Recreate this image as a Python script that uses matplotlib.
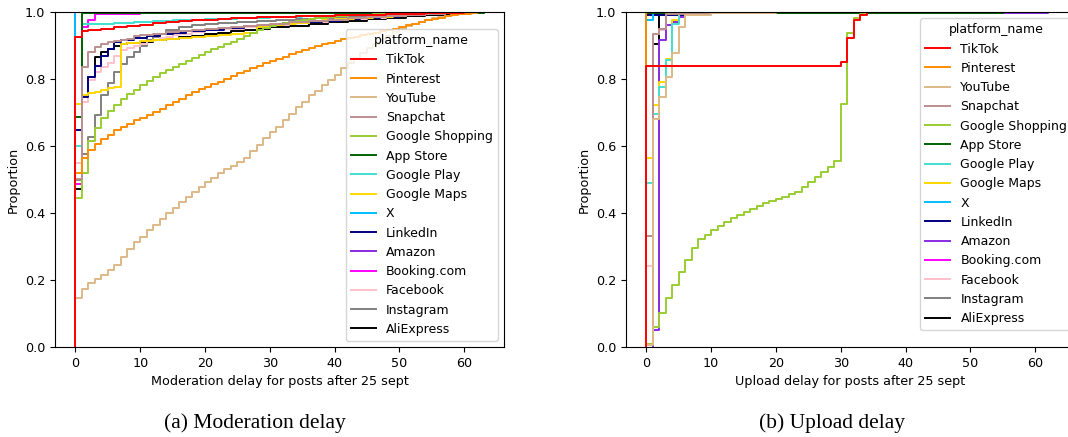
import numpy as np
import matplotlib
matplotlib.use("Agg")
import matplotlib.pyplot as plt

plt.rcParams['font.size'] = 9.2

platforms = ["TikTok", "Pinterest", "YouTube", "Snapchat", "Google Shopping",
             "App Store", "Google Play", "Google Maps", "X", "LinkedIn",
             "Amazon", "Booking.com", "Facebook", "Instagram", "AliExpress"]
colors = ["red", "darkorange", "burlywood", "rosybrown", "yellowgreen",
          "darkgreen", "turquoise", "gold", "deepskyblue", "navy",
          "blueviolet", "magenta", "pink", "gray", "black"]

# moderation delay (days) -> cumulative proportion
mod_days_full = list(range(64))
mod_youtube = [0.147, 0.173, 0.19, 0.203, 0.215, 0.23, 0.245, 0.27, 0.293, 0.313,
               0.329, 0.349, 0.365, 0.381, 0.401, 0.416, 0.433, 0.448, 0.463, 0.477,
               0.493, 0.505, 0.518, 0.53, 0.541, 0.551, 0.563, 0.584, 0.604, 0.624,
               0.643, 0.658, 0.678, 0.697, 0.717, 0.732, 0.752, 0.764, 0.781, 0.797,
               0.812, 0.832, 0.848, 0.864, 0.879, 0.893, 0.906, 0.918, 0.929, 0.94,
               0.949, 0.957, 0.964, 0.971, 0.976, 0.981, 0.985, 0.989, 0.992, 0.995,
               0.997, 0.998, 0.999, 1.0]
mod_pinterest = [0.52, 0.563, 0.588, 0.607, 0.621, 0.634, 0.647, 0.658, 0.667, 0.677,
                 0.685, 0.693, 0.702, 0.711, 0.721, 0.73, 0.74, 0.752, 0.76, 0.769,
                 0.777, 0.784, 0.792, 0.8, 0.809, 0.817, 0.825, 0.832, 0.839, 0.847,
                 0.854, 0.86, 0.867, 0.874, 0.88, 0.887, 0.893, 0.899, 0.904, 0.909,
                 0.913, 0.918, 0.922, 0.926, 0.93, 0.934, 0.938, 0.942, 0.946, 0.95,
                 0.955, 0.96, 0.965, 0.97, 0.975, 0.979, 0.983, 0.987, 0.99, 0.993,
                 0.995, 0.997, 0.999, 1.0]
mod_shopping_d = list(range(41)) + [42, 44, 46, 48, 51, 55, 60]
mod_shopping = [0.444, 0.518, 0.615, 0.653, 0.683, 0.704, 0.722, 0.739, 0.754, 0.767,
                0.782, 0.794, 0.806, 0.817, 0.827, 0.837, 0.846, 0.855, 0.864, 0.872,
                0.88, 0.889, 0.896, 0.904, 0.911, 0.919, 0.928, 0.936, 0.945, 0.952,
                0.958, 0.963, 0.967, 0.971, 0.974, 0.977, 0.979, 0.981, 0.983, 0.985,
                0.987, 0.99, 0.992, 0.994, 0.996, 0.998, 0.999, 1.0]
mod_tiktok_d = [0, 1, 2, 4, 6, 8, 10, 12, 14, 16, 18, 20, 22, 24, 26, 28, 30, 32, 34, 36,
                38, 40, 42, 45, 48, 51, 54, 57, 60, 63]
mod_tiktok = [0.925, 0.943, 0.946, 0.95, 0.954, 0.958, 0.962, 0.966, 0.969, 0.972, 0.975,
              0.977, 0.979, 0.981, 0.983, 0.984, 0.985, 0.986, 0.987, 0.988, 0.989, 0.99,
              0.991, 0.992, 0.994, 0.995, 0.996, 0.997, 0.999, 1.0]
mod_snapchat_d = [0, 1, 2, 3, 4, 5, 6, 7, 8, 9, 10, 12, 14, 16, 18, 20, 22, 24, 26, 28, 30,
                  33, 36, 39, 42, 45, 48, 51, 54, 57, 60]
mod_snapchat = [0.503, 0.837, 0.88, 0.895, 0.905, 0.91, 0.913, 0.915, 0.92, 0.927, 0.931,
                0.935, 0.94, 0.944, 0.947, 0.95, 0.953, 0.956, 0.959, 0.962, 0.965, 0.969,
                0.973, 0.977, 0.981, 0.984, 0.988, 0.991, 0.994, 0.997, 1.0]
mod_appstore_d = [0, 1, 63]
mod_appstore = [0.688, 0.997, 1.0]
mod_play_d = [0, 1, 3, 6, 9, 12, 15, 20, 25, 30, 35, 40, 45, 50, 55, 60, 63]
mod_play = [0.6, 0.963, 0.965, 0.967, 0.969, 0.972, 0.975, 0.978, 0.982, 0.985, 0.988, 0.99,
            0.992, 0.994, 0.996, 0.998, 1.0]
mod_maps_d = [0, 1, 2, 3, 4, 5, 6, 7, 8, 10, 12, 14, 16, 18, 20, 22, 24, 26, 28, 30, 32, 34,
              36, 38, 40, 43, 46, 49, 52, 55, 58, 61]
mod_maps = [0.725, 0.752, 0.758, 0.762, 0.767, 0.772, 0.777, 0.905, 0.908, 0.912, 0.916, 0.92,
            0.923, 0.926, 0.929, 0.932, 0.935, 0.938, 0.955, 0.96, 0.964, 0.968, 0.972, 0.975,
            0.978, 0.982, 0.986, 0.99, 0.993, 0.996, 0.998, 1.0]
mod_x_d = [0]
mod_x = [1.0]
mod_linkedin_d = [0, 1, 2, 3, 4, 5, 6, 7, 9, 11, 13, 15, 17, 20, 23, 26, 29, 32, 35, 38, 41,
                  44, 47, 50, 53, 56, 60]
mod_linkedin = [0.648, 0.745, 0.807, 0.84, 0.868, 0.89, 0.91, 0.915, 0.921, 0.927, 0.933,
                0.938, 0.942, 0.947, 0.952, 0.957, 0.962, 0.966, 0.97, 0.974, 0.978, 0.982,
                0.986, 0.99, 0.993, 0.996, 1.0]
mod_amazon_d = [0]
mod_amazon = [1.0]
mod_booking_d = [0, 1, 2, 3, 10, 25, 63]
mod_booking = [0.487, 0.956, 0.976, 0.993, 0.996, 0.998, 1.0]
mod_facebook_d = [0, 1, 2, 3, 4, 5, 6, 7, 8, 9, 10, 11, 12, 13, 14, 15, 16, 18, 20, 23, 26, 30,
                  33, 36, 39, 42, 45, 48, 51, 54, 57, 60, 63]
mod_facebook = [0.55, 0.73, 0.797, 0.822, 0.837, 0.847, 0.869, 0.887, 0.893, 0.9, 0.906, 0.912,
                0.917, 0.922, 0.926, 0.93, 0.934, 0.94, 0.945, 0.95, 0.955, 0.962, 0.967,
                0.971, 0.975, 0.979, 0.983, 0.987, 0.99, 0.993, 0.996, 0.998, 1.0]
mod_instagram_d = [0, 1, 2, 3, 4, 5, 6, 7, 8, 9, 10, 11, 12, 13, 14, 16, 18, 20, 22, 25, 28,
                   31, 34, 37, 40, 43, 46, 49, 52, 55, 58, 61]
mod_instagram = [0.5, 0.576, 0.627, 0.693, 0.752, 0.787, 0.82, 0.845, 0.865, 0.88, 0.9, 0.915,
                 0.926, 0.935, 0.945, 0.955, 0.96, 0.963, 0.966, 0.97, 0.973, 0.976, 0.979,
                 0.982, 0.985, 0.988, 0.99, 0.992, 0.994, 0.996, 0.998, 1.0]
mod_aliexpress_d = [0, 1, 2, 3, 4, 5, 6, 7, 8, 9, 10, 12, 14, 16, 18, 20, 22, 24, 26, 28, 30,
                    33, 36, 39, 42, 45, 48, 51, 54, 57, 60]
mod_aliexpress = [0.471, 0.75, 0.807, 0.867, 0.882, 0.891, 0.9, 0.905, 0.907, 0.909, 0.911,
                  0.915, 0.919, 0.924, 0.929, 0.934, 0.938, 0.942, 0.946, 0.95, 0.954, 0.959,
                  0.964, 0.969, 0.974, 0.979, 0.983, 0.987, 0.991, 0.995, 1.0]

# upload delay (days) -> cumulative proportion
up_tiktok_d = [0, 30, 31, 32, 33, 34]
up_tiktok = [0.839, 0.852, 0.921, 0.976, 0.991, 1.0]
up_pinterest_d = [0]
up_pinterest = [1.0]
up_youtube_d = [0, 1, 2, 3, 4, 5, 6, 10, 20, 40]
up_youtube = [0.005, 0.68, 0.747, 0.807, 0.879, 0.954, 0.99, 0.996, 0.999, 1.0]
up_snapchat_d = [0, 1, 2, 3, 10]
up_snapchat = [0.331, 0.935, 0.95, 0.995, 1.0]
up_shopping_d = list(range(35))
up_shopping = [0.01, 0.06, 0.102, 0.145, 0.185, 0.225, 0.26, 0.295, 0.321, 0.334,
               0.349, 0.362, 0.374, 0.384, 0.394, 0.403, 0.411, 0.421, 0.429, 0.436,
               0.442, 0.449, 0.457, 0.464, 0.479, 0.493, 0.508, 0.523, 0.538, 0.556,
               0.724, 0.938, 0.981, 0.995, 1.0]
up_appstore_d = [0, 55]
up_appstore = [0.997, 1.0]
up_play_d = [0, 1, 2, 3, 4, 5, 10]
up_play = [0.49, 0.696, 0.775, 0.857, 0.965, 0.996, 1.0]
up_maps_d = [0, 1, 2, 3, 4, 5, 10]
up_maps = [0.563, 0.722, 0.792, 0.859, 0.976, 0.995, 1.0]
up_x_d = [0, 1]
up_x = [0.976, 1.0]
up_linkedin_d = [0, 6]
up_linkedin = [0.99, 1.0]
up_amazon_d = [1, 2, 3, 4, 5, 6, 62]
up_amazon = [0.05, 0.916, 0.961, 0.971, 0.986, 0.996, 1.0]
up_booking_d = [0, 2, 19]
up_booking = [0.995, 0.997, 1.0]
up_facebook_d = [0, 1, 2, 3, 19]
up_facebook = [0.242, 0.934, 0.945, 0.996, 1.0]
up_instagram_d = [0, 1, 2, 3, 10]
up_instagram = [0.331, 0.935, 0.948, 0.995, 1.0]
up_aliexpress_d = [1, 2]
up_aliexpress = [0.906, 1.0]

moderation = [(mod_tiktok_d, mod_tiktok), (mod_days_full, mod_pinterest),
              (mod_days_full, mod_youtube), (mod_snapchat_d, mod_snapchat),
              (mod_shopping_d, mod_shopping), (mod_appstore_d, mod_appstore),
              (mod_play_d, mod_play), (mod_maps_d, mod_maps), (mod_x_d, mod_x),
              (mod_linkedin_d, mod_linkedin), (mod_amazon_d, mod_amazon),
              (mod_booking_d, mod_booking), (mod_facebook_d, mod_facebook),
              (mod_instagram_d, mod_instagram), (mod_aliexpress_d, mod_aliexpress)]
upload = [(up_tiktok_d, up_tiktok), (up_pinterest_d, up_pinterest),
          (up_youtube_d, up_youtube), (up_snapchat_d, up_snapchat),
          (up_shopping_d, up_shopping), (up_appstore_d, up_appstore),
          (up_play_d, up_play), (up_maps_d, up_maps), (up_x_d, up_x),
          (up_linkedin_d, up_linkedin), (up_amazon_d, up_amazon),
          (up_booking_d, up_booking), (up_facebook_d, up_facebook),
          (up_instagram_d, up_instagram), (up_aliexpress_d, up_aliexpress)]


def draw_ecdf(ax, series, xlabel, legend_loc, anchor):
  handles = [None] * len(platforms)
  # last hue drawn first, like seaborn does
  for i in reversed(range(len(platforms))):
    d, p = series[i]
    x = np.r_[d[0], d]
    y = np.r_[0.0, p]
    line, = ax.plot(x, y, drawstyle="steps-post", color=colors[i], lw=1.4, label=platforms[i])
    handles[i] = line
  ax.set_xlim(-3.15, 66.15)
  ax.set_ylim(0, 1)
  ax.set_xticks([0, 10, 20, 30, 40, 50, 60])
  ax.set_xlabel(xlabel)
  ax.set_ylabel("Proportion")
  ax.legend(handles=handles, title="platform_name", loc=legend_loc, bbox_to_anchor=anchor,
            fontsize=9, title_fontsize=9)


fig = plt.figure(figsize=(10.68, 4.37), dpi=100)
ax1 = fig.add_axes([0.0515, 0.2059, 0.4204, 0.7666])
ax2 = fig.add_axes([0.5861, 0.2059, 0.4204, 0.7666])

draw_ecdf(ax1, moderation, "Moderation delay for posts after 25 sept", "lower right", (1.0, 0.0))
draw_ecdf(ax2, upload, "Upload delay for posts after 25 sept", "upper right", (1.008, 1.0))

fig.text(0.239, 0.032, "(a) Moderation delay", ha="center", va="center",
         family="Liberation Serif", fontsize=15.5)
fig.text(0.779, 0.032, "(b) Upload delay", ha="center", va="center",
         family="Liberation Serif", fontsize=15.5)

fig.savefig("out.png", dpi=100)
